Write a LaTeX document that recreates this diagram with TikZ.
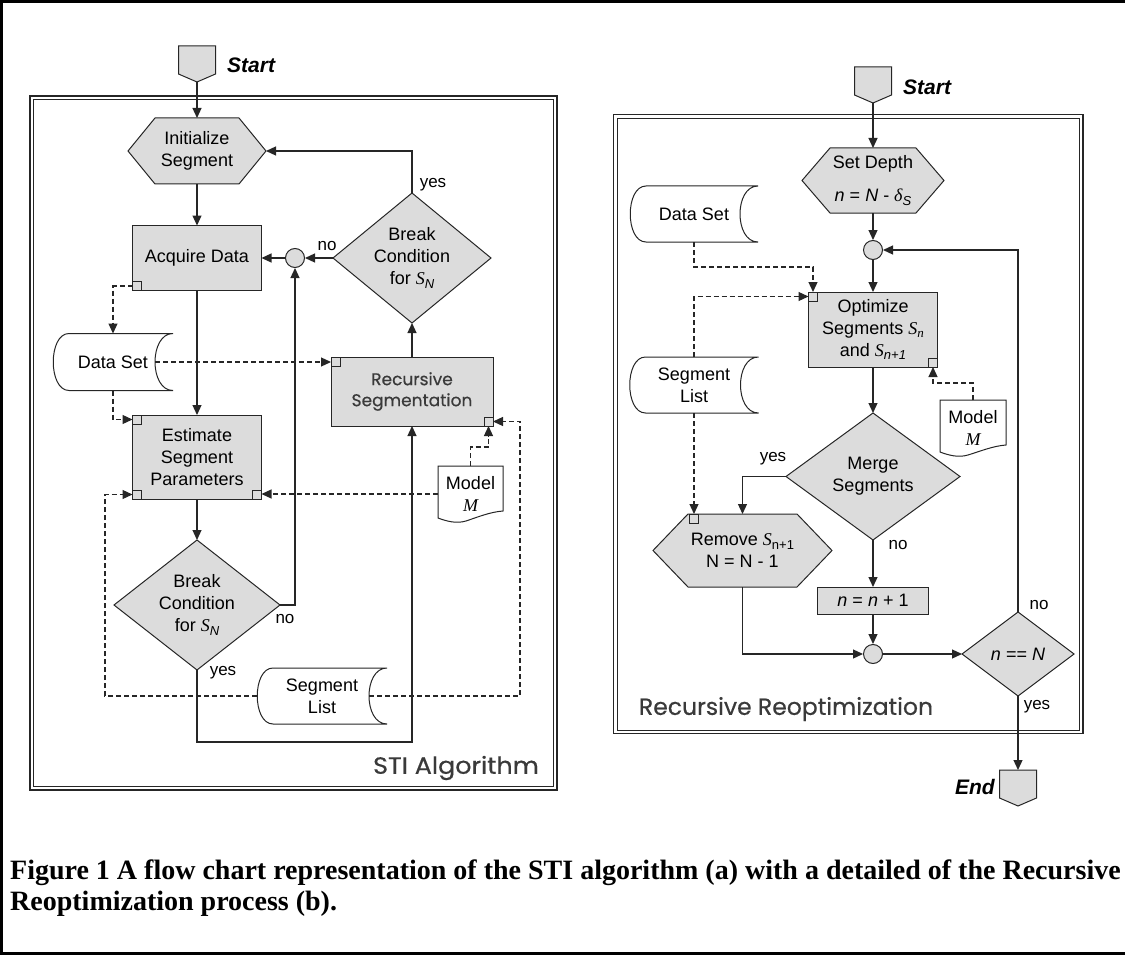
\documentclass[tikz,border=0pt]{standalone}
\usepackage{fontspec}
\setmainfont{Liberation Sans}
\newfontfamily\tms{Liberation Serif}
\newfontfamily\comic{Poppins}[FakeBold=0.5]
\usetikzlibrary{arrows.meta,calc,backgrounds}
\definecolor{boxgray}{HTML}{DCDCDC}
\definecolor{ln}{HTML}{262626}
\definecolor{titlecol}{HTML}{3A3A3A}
\newcommand\lsub[1]{\raisebox{-0.4ex}{\fontsize{13}{13}\selectfont #1}}
\newcommand\storeshape[1]{\path[store] ($(#1.north west)+(16,0)$) -- (#1.north east) .. controls ($(#1.north east)+(-24,0)$) and ($(#1.south east)+(-24,0)$) .. (#1.south east) -- ($(#1.south west)+(16,0)$) .. controls ($(#1.south west)+(-5,0)$) and ($(#1.north west)+(-5,0)$) .. ($(#1.north west)+(16,0)$) -- cycle;}
\newcommand\docshape[1]{\path[store] (#1.north west) -- (#1.north east) -- ($(#1.north east)+(0,45)$) .. controls ($(#1.north east)+(-13,46)$) and ($(#1.north east)+(-25,51)$) .. ($(#1.north west)+(28,55)$) .. controls ($(#1.north west)+(18,58)$) and ($(#1.north west)+(8,55)$) .. ($(#1.north west)+(0,52)$) -- cycle;}
\newcommand\termshape[1]{\path[shp] (#1.north west) -- (#1.north east) -- ($(#1.south east)+(0,-8)$) -- (#1.south) -- ($(#1.south west)+(0,-8)$) -- cycle;}
\newcommand\hexshape[2]{\path[shp] (#1.west) -- ($(#1.north west)+(#2,0)$) -- ($(#1.north east)+(-#2,0)$) -- (#1.east) -- ($(#1.south east)+(-#2,0)$) -- ($(#1.south west)+(#2,0)$) -- cycle;}
\newcommand\diashape[1]{\path[shp] (#1.north) -- (#1.east) -- (#1.south) -- (#1.west) -- cycle;}
\tikzset{
  x=1pt, y=-1pt,
  basenode/.style={inner sep=0pt, outer sep=0pt, align=center, font=\fontsize{18}{22}\selectfont},
  proc/.style={basenode, rectangle, draw=ln, fill=boxgray, line width=1pt},
  holder/.style={basenode, rectangle},
  joint/.style={circle, draw=ln, fill=boxgray, line width=1pt, minimum size=19pt, inner sep=0pt},
  shp/.style={draw=ln, fill=boxgray, line width=1pt},
  store/.style={draw=ln, fill=white, line width=1pt},
  sq/.style={draw=ln, fill=boxgray, line width=0.8pt},
  flow/.style={draw=ln, line width=1.2pt, -{Triangle[length=10pt,width=9pt]}},
  dflow/.style={flow, dash pattern=on 5pt off 3pt},
  lbl/.style={inner sep=0pt, font=\fontsize{17}{20}\selectfont},
  termtxt/.style={inner sep=0pt, font=\fontsize{21}{21}\selectfont\bfseries\itshape},
  frameo/.style={draw=ln, line width=1.8pt},
  framei/.style={draw=ln, line width=0.9pt},
  paneltitle/.style={inner sep=0pt, font=\comic\fontsize{23.5}{24}\selectfont, text=titlecol},
  captxt/.style={anchor=base west, inner sep=0pt, font=\tms\bfseries\fontsize{28}{31}\selectfont},
}
\begin{document}
\begin{tikzpicture}
\useasboundingbox (0,0) rectangle (1125,955);
\draw[line width=3pt] (1125,1.5) -- (1.5,1.5) -- (1.5,953.5) -- (1125,953.5);
% panel frames
\draw[frameo] (30,96) rectangle (557,790);
\draw[framei] (33.5,99.5) rectangle (553.5,786.5);
\draw[frameo] (613.5,114.5) rectangle (1083,733.5);
\draw[framei] (617,118) rectangle (1079.5,730);

% ---------- left nodes
\node[holder, minimum width=37, minimum height=36] (st1) at (197,64) {};
\node[termtxt, anchor=west] (st1t) at (227,65) {Start};
\node[holder, minimum width=138, minimum height=66] (init) at (197,151) {Initialize\\Segment};
\node[proc, minimum width=129, minimum height=65] (acq) at (197,258) {Acquire Data};
\node[joint] (c1) at (295,258) {};
\node[holder, minimum width=158, minimum height=130] (bc1) at (412,258) {Break\\Condition\\for {\tms\itshape S}\lsub{\itshape N}};
\node[holder, minimum width=120, minimum height=57] (ds1) at (113,362) {Data Set};
\node[proc, minimum width=129, minimum height=84] (est) at (197,457) {Estimate\\Segment\\Parameters};
\node[proc, minimum width=162, minimum height=69, font=\comic\fontsize{17}{21}\selectfont, text=titlecol] (rs) at (412,391.5) {Recursive\\Segmentation};
\node[holder, minimum width=166, minimum height=130] (bc2) at (197,605) {Break\\Condition\\for {\tms\itshape S}\lsub{\itshape N}};
\node[holder, minimum width=130, minimum height=56] (sl1) at (322,696) {Segment\\List};
\node[holder, minimum width=65, minimum height=56] (mod1) at (470.5,494) {Model\\{\tms\itshape M}};
\node[paneltitle] (t1) at (456,768) {\scalebox{1.08}[1]{STI Algorithm}};

% ---------- right nodes
\node[holder, minimum width=37, minimum height=36] (st2) at (873,85) {};
\node[termtxt, anchor=west] (st2t) at (903,87) {Start};
\node[holder, minimum width=142, minimum height=65] (sd) at (873,180.5) {Set Depth\\[11pt]{\itshape n} = {\itshape N} - {\tms\itshape δ}\lsub{\itshape S}};
\node[joint] (c2) at (873,250) {};
\node[proc, minimum width=129, minimum height=75] (opt) at (873,329.5) {Optimize\\Segments {\tms\itshape S}\lsub{\tms\itshape n}\\and {\tms\itshape S}\lsub{\itshape n+1}};
\node[holder, minimum width=128, minimum height=56] (ds2) at (694,214) {Data Set};
\node[holder, minimum width=129, minimum height=56] (sl2) at (694,385) {Segment\\List};
\node[holder, minimum width=66, minimum height=56] (mod2) at (973,428) {Model\\{\tms\itshape M}};
\node[holder, minimum width=174, minimum height=127] (md) at (873,476.5) {Merge\\Segments};
\node[holder, minimum width=179, minimum height=73] (rm) at (742.5,550.5) {Remove {\tms\itshape S}\lsub{n+1}\\N = N - 1};
\node[proc, minimum width=111, minimum height=27] (nn) at (873,600.5) {{\itshape n} = {\itshape n} + 1};
\node[joint] (c3) at (873,654) {};
\node[holder, minimum width=112, minimum height=84] (eq) at (1018,654) {{\itshape n} == {\itshape N}};
\node[holder, minimum width=37, minimum height=36] (en) at (1018,788) {};
\node[termtxt, anchor=east] (ent) at (995,787) {End};
\node[paneltitle] (t2) at (786,709) {Recursive Reoptimization};

% ---------- caption
\node[captxt] (cap1) at (10,879) {Figure 1 A flow chart representation of the STI algorithm (a) with a detailed of the Recursive};
\node[captxt] (cap2) at (10,910) {Reoptimization process (b).};

% ---------- shapes behind
\begin{scope}[on background layer]
\termshape{st1}
\termshape{st2}
\termshape{en}
\hexshape{init}{27}
\hexshape{sd}{28}
\hexshape{rm}{35}
\diashape{bc1}
\diashape{bc2}
\diashape{md}
\diashape{eq}
\storeshape{ds1}
\storeshape{sl1}
\storeshape{ds2}
\storeshape{sl2}
\docshape{mod1}
\docshape{mod2}
\end{scope}

% ---------- corner squares
\coordinate (rmsq) at (sl2.south |- rm.north);
\draw[sq] (acq.south west) rectangle ++(9,-9);
\draw[sq] (est.north west) rectangle ++(9,9);
\draw[sq] (est.south west) rectangle ++(9,-9);
\draw[sq] (est.south east) rectangle ++(-9,-9);
\draw[sq] (rs.north west) rectangle ++(9,9);
\draw[sq] (rs.south east) rectangle ++(-9,-9);
\draw[sq] (opt.north west) rectangle ++(9,9);
\draw[sq] (opt.south east) rectangle ++(-9,-9);
\draw[sq] ($(rmsq)+(-4.5,0)$) rectangle ++(9,9);

% ---------- left connectors
\draw[flow] (st1.south) -- (init.north);
\draw[flow] (init.south) -- (acq.north);
\draw[flow] (acq.south) -- (est.north);
\draw[flow] (est.south) -- (bc2.north);
\draw[flow] (bc2.east) -| (c1.south);
\coordinate (k1) at (197,742);
\draw[flow] (bc2.south) -- (k1) -| (rs.south);
\draw[flow] (rs.north) -- (bc1.south);
\draw[flow] (bc1.north) |- (init.east);
\draw[flow] (bc1.west) -- (c1.east);
\draw[flow] (c1.west) -- (acq.east);

\coordinate (acqc) at ($(acq.south west)+(0,-4.5)$);
\draw[dflow] (acqc) -| (ds1.north);
\draw[dflow] (ds1.south) |- ($(est.north west)+(0,4.5)$);
\coordinate (ds1c) at ($(ds1.east)+(-18,0)$);
\draw[dflow] (ds1c) -- (ds1c -| rs.west);
\coordinate (k2) at (105,696);
\draw[dflow] (sl1.west) -- (k2) |- ($(est.south west)+(0,-4.5)$);
\coordinate (sl1c) at ($(sl1.east)+(-18,0)$);
\coordinate (k3) at (520,696);
\draw[dflow] (sl1c) -- (k3) |- ($(rs.south east)+(0,-4.5)$);
\draw[dflow] (mod1.west) -- (mod1.west -| est.east);
\draw[dflow] (mod1.north) -- ++(0,-19) -| ($(rs.south east)+(-4.5,0)$);

% ---------- right connectors
\draw[flow] (st2.south) -- (sd.north);
\draw[flow] (sd.south) -- (c2.north);
\draw[flow] (c2.south) -- (opt.north);
\draw[flow] (eq.north) |- (c2.east);
\draw[flow] (opt.south) -- (md.north);
\draw[flow] (md.west) -| (rm.north);
\draw[flow] (md.south) -- (nn.north);
\draw[flow] (nn.south) -- (c3.north);
\draw[flow] (rm.south) |- (c3.west);
\draw[flow] (c3.east) -- (eq.west);
\draw[flow] (eq.south) -- (en.north);

\draw[dflow] (ds2.south) -- ++(0,25) -| ($(opt.north west)+(4.5,0)$);
\draw[dflow] (sl2.north) |- ($(opt.north west)+(0,4.5)$);
\draw[dflow] (sl2.south) -- (rmsq);
\draw[dflow] (mod2.north) -- ++(0,-17) -| ($(opt.south east)+(-4.5,0)$);

% ---------- labels
\node[lbl] (y1) at (433,185) {yes};
\node[lbl] (n1) at (327,246) {no};
\node[lbl] (n2) at (285,619) {no};
\node[lbl] (y2) at (223,673) {yes};
\node[lbl] (y3) at (773,459) {yes};
\node[lbl] (n3) at (898,545) {no};
\node[lbl] (n4) at (1039,605) {no};
\node[lbl] (y4) at (1037,707) {yes};
\end{tikzpicture}
\end{document}
